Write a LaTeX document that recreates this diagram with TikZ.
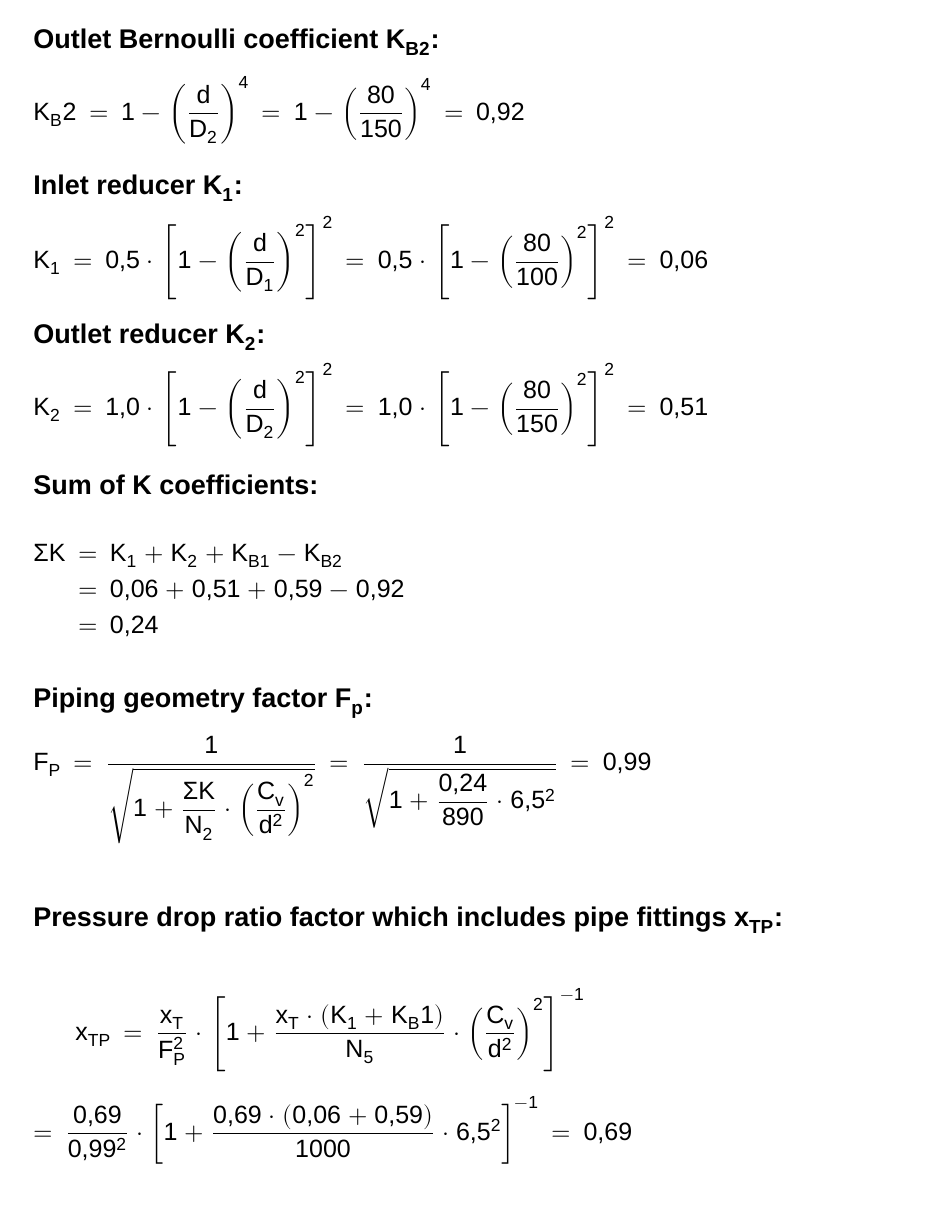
\documentclass[tikz,border=0pt]{standalone}
\usepackage{amsmath}
\usepackage{fontspec}
\usepackage{unicode-math}
\setmainfont{Liberation Sans}
\setmathfont{Latin Modern Math}
\setmathfont[range={up/{latin,Latin,num,greek,Greek},it/{latin,Latin,greek,Greek}}]{Liberation Sans}
\setmathfont[range={"2C}]{Liberation Sans}
\thickmuskip=9mu plus 2mu
\medmuskip=5mu plus 2mu
\begin{document}
\begin{tikzpicture}[x=0.5pt,y=-0.5pt,
  head/.style={anchor=west,inner sep=0pt,font=\fontsize{13.5}{16}\selectfont\bfseries},
  eq/.style={anchor=west,inner sep=0pt,font=\fontsize{12.5}{15}\selectfont}]
\useasboundingbox (0,0) rectangle (926,1220);
\node[head] (h1) at (33,42) {Outlet Bernoulli coefficient K\textsubscript{B2}:};
\node[eq] (e1) at (33,110) {$K_B2 = 1-\left(\dfrac{d}{D_2}\right)^4 = 1-\left(\dfrac{80}{150}\right)^4 = 0{,}92$};
\node[head] (h2) at (33,188) {Inlet reducer K\textsubscript{1}:};
\node[eq] (e2) at (33,258) {$K_1 = 0{,}5\cdot\left[1-\left(\dfrac{d}{D_1}\right)^2\right]^2 = 0{,}5\cdot\left[1-\left(\dfrac{80}{100}\right)^2\right]^2 = 0{,}06$};
\node[head] (h3) at (33,337) {Outlet reducer K\textsubscript{2}:};
\node[eq] (e3) at (33,405) {$K_2 = 1{,}0\cdot\left[1-\left(\dfrac{d}{D_2}\right)^2\right]^2 = 1{,}0\cdot\left[1-\left(\dfrac{80}{150}\right)^2\right]^2 = 0{,}51$};
\node[head] (h4) at (33,485) {Sum of K coefficients:};
\node[eq,anchor=north west] (e4) at (33,540) {$\begin{aligned}\Sigma K &= K_1+K_2+K_{B1}-K_{B2}\\ &= 0{,}06+0{,}51+0{,}59-0{,}92\\ &= 0{,}24\end{aligned}$};
\node[head] (h5) at (33,703) {Piping geometry factor F\textsubscript{p}:};
\node[eq] (e5) at (33,790) {$F_P = \dfrac{1}{\sqrt{1+\dfrac{\Sigma K}{N_2}\cdot\left(\dfrac{C_v}{d^2}\right)^2}} = \dfrac{1}{\sqrt{1+\dfrac{0{,}24}{890}\cdot 6{,}5^2}} = 0{,}99$};
\node[head] (h6) at (33,920) {Pressure drop ratio factor which includes pipe fittings x\textsubscript{TP}:};
\node[eq] (e6) at (75,1030) {$x_{TP} = \dfrac{x_T}{F_P^2}\cdot\left[1+\dfrac{x_T\cdot(K_1+K_B1)}{N_5}\cdot\left(\dfrac{C_v}{d^2}\right)^2\right]^{-1}$};
\node[eq] (e7) at (33,1130) {$=\dfrac{0{,}69}{0{,}99^2}\cdot\left[1+\dfrac{0{,}69\cdot(0{,}06+0{,}59)}{1000}\cdot 6{,}5^2\right]^{-1} = 0{,}69$};
\end{tikzpicture}
\end{document}
